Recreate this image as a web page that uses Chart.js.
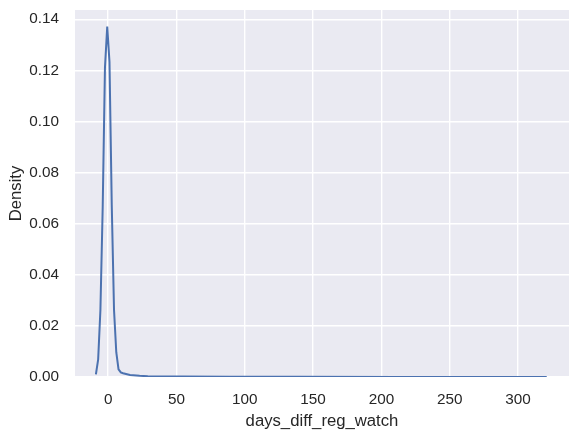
<!DOCTYPE html>
<html>
<head>
<meta charset="utf-8">
<script src="https://cdn.jsdelivr.net/npm/chart.js@4.4.0/dist/chart.umd.min.js"></script>
<style>
  html, body { margin: 0; padding: 0; background: #ffffff; }
  #myChart { display: block; }
</style>
</head>
<body>
<canvas id="myChart" width="579" height="437"></canvas>
<script>
// kde curve
const days = [-9.0, -7.34, -5.69, -4.03, -2.37, -0.71, 0.94, 2.60, 4.26, 5.91, 7.57, 9.23, 10.88,
              16, 23, 29, 41, 54, 89, 140, 213, 321];
const density = [0.00105, 0.0069, 0.0263, 0.0663, 0.121, 0.1371, 0.1233, 0.0674, 0.0263, 0.0097, 0.0030, 0.0018, 0.00145,
                 0.0008, 0.00047, 0.0003, 0.0002, 0.00015, 0.0001, 0.00006, 0.00003, 0.00001];
const xTicks = [0, 50, 100, 150, 200, 250, 300];
const yTicks = [0, 0.02, 0.04, 0.06, 0.08, 0.10, 0.12, 0.14];

const points = days.map((d, i) => ({x: d, y: density[i]}));

const bgPlugin = {
    id: 'plotBg',
    beforeDraw(chart) {
        const a = chart.chartArea;
        const ctx = chart.ctx;
        ctx.save();
        ctx.fillStyle = '#EAEAF2';
        ctx.fillRect(a.left, a.top, a.right - a.left, a.bottom - a.top);
        ctx.restore();
    }
};

const font = "'Liberation Sans', Arial, sans-serif";
const textColor = '#262626';

const ctx = document.getElementById('myChart').getContext('2d');
const myChart = new Chart(ctx, {
    type: 'line',
    data: {
        datasets: [{
            data: points,
            borderColor: '#4C72B0',
            borderWidth: 2,
            pointRadius: 0,
            tension: 0,
            fill: false
        }]
    },
    options: {
        responsive: false,
        animation: false,
        layout: { padding: { top: 10, right: 10, left: 0, bottom: 0 } },
        plugins: { legend: { display: false }, tooltip: { enabled: false } },
        scales: {
            x: {
                type: 'linear',
                min: -24.3,
                max: 337.3,
                afterBuildTicks: s => { s.ticks = xTicks.map(v => ({value: v})); },
                afterFit: s => { s.height = 60; s.paddingLeft = 0; s.paddingRight = 0; },
                grid: { color: '#ffffff', lineWidth: 1.4, drawTicks: false },
                border: { display: false },
                ticks: { padding: 14, color: textColor, font: { family: font, size: 15.3 },
                         callback: v => String(v) },
                title: { display: true, text: 'days_diff_reg_watch', color: textColor,
                         font: { family: font, size: 16.7 }, padding: { top: 6, bottom: 6 } }
            },
            y: {
                min: 0,
                max: 0.1436,
                afterBuildTicks: s => { s.ticks = yTicks.map(v => ({value: v})); },
                afterFit: s => { s.width = 75; s.paddingTop = 0; s.paddingBottom = 0; },
                grid: { color: '#ffffff', lineWidth: 1.4, drawTicks: false },
                border: { display: false },
                ticks: { padding: 16, color: textColor, font: { family: font, size: 15.3 },
                         callback: v => v.toFixed(2) },
                title: { display: true, text: 'Density', color: textColor,
                         font: { family: font, size: 16.7 }, padding: { top: 6, bottom: 6 } }
            }
        }
    },
    plugins: [bgPlugin]
});
</script>
</body>
</html>
